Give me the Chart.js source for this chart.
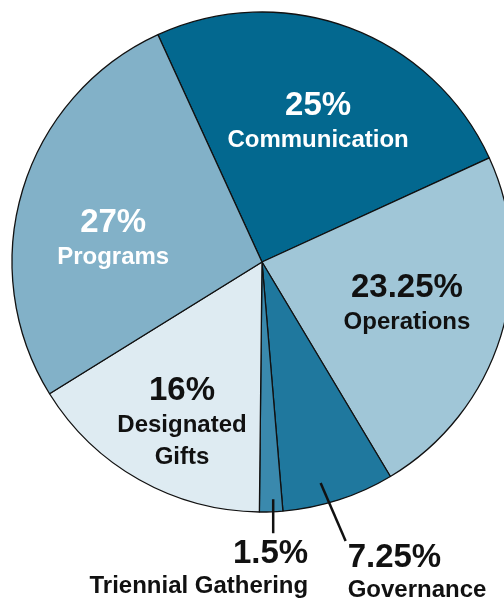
<!DOCTYPE html>
<html>
<head>
<meta charset="utf-8">
<script src="https://cdn.jsdelivr.net/npm/chart.js@4/dist/chart.umd.min.js"></script>
<style>
  html, body { margin: 0; padding: 0; background: #fff; overflow: hidden; width: 504px; height: 600px; }
  #wrap { position: relative; width: 524px; height: 600px; }
</style>
</head>
<body>
<div id="wrap"><canvas id="pie" width="524" height="600"></canvas></div>
<script>
const categories = ["Communication", "Operations", "Governance", "Triennial Gathering", "Designated Gifts", "Programs"];
const shares = [25, 23.25, 7.25, 1.5, 16, 27];
const pctLabels = ["25%", "23.25%", "7.25%", "1.5%", "16%", "27%"];
const nameLines = [["Communication"], ["Operations"], ["Governance"], ["Triennial Gathering"], ["Designated", "Gifts"], ["Programs"]];

const sliceColors = ["#03688f", "#a0c6d7", "#1f789e", "#3a89ad", "#deebf2", "#82b1c8"];
const textColors = ["#fff", "#111", "#111", "#111", "#111", "#fff"];

// where each label goes: inside (radius fraction + angle nudge in degrees) or a callout
const placement = [
  { f: 0.612, da: 1.1 },
  { f: 0.601, da: -2 },
  { callout: true, f: 0.915, da: 3, dx: 25, dy: 58, tx: 2, ty: 26, align: "left" },
  { callout: true, f: 0.95, da: -0.6, dx: 0, dy: 34, tx: 35, ty: 30, align: "right" },
  { f: 0.712, da: -2.7 },
  { f: 0.604, da: -7.1 }
];

const FONT = '"Liberation Sans", Arial, sans-serif';

const sliceLabels = {
  id: "sliceLabels",
  afterDatasetsDraw(chart) {
    const ctx = chart.ctx;
    const arcs = chart.getDatasetMeta(0).data;
    arcs.forEach((arc, i) => {
      const p = arc.getProps(["x", "y", "startAngle", "endAngle", "outerRadius"], true);
      const opt = placement[i];
      const mid = (p.startAngle + p.endAngle) / 2 + opt.da * Math.PI / 180;
      const ax = p.x + Math.cos(mid) * p.outerRadius * opt.f;
      const ay = p.y + Math.sin(mid) * p.outerRadius * opt.f;
      ctx.save();
      if (opt.callout) {
        const ex = ax + opt.dx, ey = ay + opt.dy;
        ctx.strokeStyle = "#111";
        ctx.lineWidth = 2.5;
        ctx.beginPath();
        ctx.moveTo(ax, ay);
        ctx.lineTo(ex, ey);
        ctx.stroke();
        ctx.fillStyle = "#111";
        ctx.textAlign = opt.align;
        ctx.textBaseline = "alphabetic";
        const tx = ex + opt.tx, ty = ey + opt.ty;
        ctx.font = "bold 33px " + FONT;
        ctx.fillText(pctLabels[i], tx, ty);
        ctx.font = "bold 24px " + FONT;
        nameLines[i].forEach((ln, k) => ctx.fillText(ln, tx, ty + 30 + k * 32));
      } else {
        const lines = [pctLabels[i]].concat(nameLines[i]);
        const lh = 32;
        ctx.fillStyle = textColors[i];
        ctx.textAlign = "center";
        ctx.textBaseline = "alphabetic";
        lines.forEach((ln, k) => {
          ctx.font = (k === 0 ? "bold 33px " : "bold 24px ") + FONT;
          const y = ay + (k - (lines.length - 1) / 2) * lh + 11;
          ctx.fillText(ln, ax, y);
        });
      }
      ctx.restore();
    });
  }
};

new Chart(document.getElementById("pie"), {
  type: "pie",
  data: {
    labels: categories,
    datasets: [{
      data: shares,
      backgroundColor: sliceColors,
      borderColor: "#111",
      borderWidth: 1.3
    }]
  },
  options: {
    responsive: false,
    animation: false,
    rotation: -24.6,
    radius: 250,
    layout: { padding: { top: 0, left: 0, right: 0, bottom: 76 } },
    plugins: {
      legend: { display: false },
      tooltip: { enabled: false }
    }
  },
  plugins: [sliceLabels]
});
</script>
</body>
</html>
